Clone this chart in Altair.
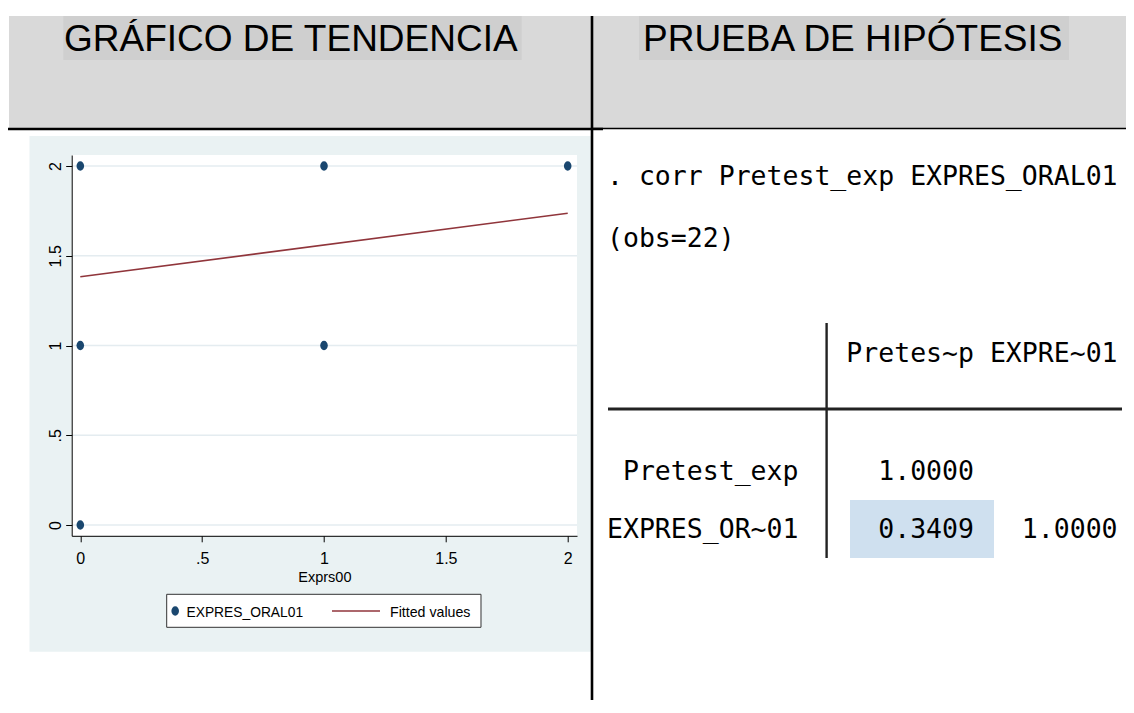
import altair as alt
import pandas as pd

# ---------------- data ----------------
pts_x = [0, 0, 0, 1, 1, 2]
pts_y = [0, 1, 2, 1, 2, 2]
fit_x = [0, 2]
fit_y = [1.383, 1.737]
x_ticks = [0, 0.5, 1, 1.5, 2]
y_ticks = [0, 0.5, 1, 1.5, 2]
legend_labels = ["EXPRES_ORAL01", "Fitted values"]
x_title = "Exprs00"
titles = ["GRÁFICO DE TENDENCIA", "PRUEBA DE HIPÓTESIS"]
cmd_line = ". corr Pretest_exp EXPRES_ORAL01"
obs_line = "(obs=22)"
col_labels = ["Pretes~p", "EXPRE~01"]
row_labels = ["Pretest_exp", "EXPRES_OR~01"]
corr_rows = [[1.0], [0.3409, 1.0]]

# ---------------- layout (window pixel geometry) ----------------
OX, OY = 71.7, 155.0          # plot region origin in the window
PW, PH = 505.3, 380.8         # plot region size
SVG_W, SVG_H = 1118, 692
PAD_L, PAD_T = OX - 8, OY - 8
PAD_R = SVG_W - PAD_L - PW
PAD_B = SVG_H - PAD_T - PH

SANS = "Liberation Sans, Arial, sans-serif"
MONO = "DejaVu Sans Mono, monospace"
NAVY = "#1A476F"
MAROON = "#90353B"
ELLIPSE = "M-0.8,0A0.8,1,0,1,0,0.8,0A0.8,1,0,1,0,-0.8,0Z"

one = alt.Data(values=[{"k": 1}])


def vx(w):
    return alt.value(round(w - OX, 2))


def vy(w):
    return alt.value(round(w - OY, 2))


def rect(x1, y1, x2, y2, color, **kw):
    return alt.Chart(one).mark_rect(color=color, **kw).encode(
        x=vx(x1), x2=vx(x2), y=vy(y1), y2=vy(y2))


def rule(x1, y1, x2, y2, color="black", width=1.0):
    return alt.Chart(one).mark_rule(color=color, strokeWidth=width).encode(
        x=vx(x1), x2=vx(x2), y=vy(y1), y2=vy(y2))


def text(s, x, y, font=SANS, size=16, align="left", color="black", weight="normal"):
    return alt.Chart(one).mark_text(
        text=s, align=align, baseline="alphabetic", font=font, fontWeight=weight,
        fontSize=size, color=color).encode(x=vx(x), y=vy(y))


fmt = "datum.value == 0.5 ? '.5' : format(datum.value, '~g')"
xs = alt.Scale(domain=[-0.0353, 2.0381], nice=False, zero=False)
ys = alt.Scale(domain=[-0.0596, 2.0613], nice=False, zero=False)
xaxis = alt.Axis(values=x_ticks, labelExpr=fmt, title=x_title,
                 titleFont=SANS, titleFontSize=14.5, titleFontWeight="normal",
                 titleColor="black", titlePadding=4,
                 labelFont=SANS, labelFontSize=16, labelColor="black",
                 labelPadding=9, labelFlush=False, labelOverlap=False,
                 tickSize=6, tickColor="black", tickWidth=1,
                 domainColor="black", domainWidth=1, grid=False, zindex=1)
yaxis = alt.Axis(values=y_ticks, labelExpr=fmt, title="",
                 labelAngle=270, labelAlign="center", labelBaseline="bottom",
                 labelFont=SANS, labelFontSize=16, labelColor="black",
                 labelPadding=2, labelFlush=False, labelOverlap=False,
                 tickSize=6, tickColor="black", tickWidth=1,
                 domainColor="black", domainWidth=1, grid=False, zindex=1)
xenc = alt.X("x:Q", scale=xs, axis=xaxis)
yenc = alt.Y("y:Q", scale=ys, axis=yaxis)

layers = []
# header band with titles
layers.append(rect(9, 16, 1140, 128, "#D9D9D9"))
layers.append(rect(63.3, 16, 521.7, 60, "#CFCFCF"))
layers.append(rect(639, 16, 1069, 60, "#CFCFCF"))
layers.append(text(titles[0], 64, 51, size=37))
layers.append(text(titles[1], 643, 51, size=37))
# Stata graph region and plot region
layers.append(rect(29.5, 136, 591.5, 651.7, "#EAF2F3"))
layers.append(rect(OX, OY, OX + PW, OY + PH, "white"))
# table borders of the document
layers.append(rule(8, 129, 603, 129, width=2.6))
layers.append(rule(592, 128.5, 1140, 128.5, width=1.3))
layers.append(rule(592, 16, 592, 713, width=2.6))

# gridlines, points, fitted line
grid = alt.Chart(pd.DataFrame({"y": y_ticks})).mark_rule(
    color="#E4ECF0", strokeWidth=1.5).encode(y=yenc, x=alt.value(0), x2=alt.value(PW))
pts = alt.Chart(pd.DataFrame({"x": pts_x, "y": pts_y})).mark_point(
    shape=ELLIPSE, filled=True, size=90, color=NAVY, opacity=1).encode(x=xenc, y=yenc)
fit = alt.Chart(pd.DataFrame({"x": fit_x, "y": fit_y})).mark_line(
    color=MAROON, strokeWidth=1.6).encode(x=xenc, y=yenc)
layers += [grid, pts, fit]

# legend
layers.append(rect(166.7, 594.3, 481, 627.3, "white", stroke="#333333", strokeWidth=1))
layers.append(alt.Chart(one).mark_point(shape=ELLIPSE, filled=True, size=90,
                                        color=NAVY, opacity=1).encode(x=vx(175.2), y=vy(611)))
layers.append(text(legend_labels[0], 186.5, 616.5, size=13.8))
layers.append(rule(332, 611, 380, 611, color=MAROON, width=1.6))
layers.append(text(legend_labels[1], 390, 616.5, size=14.2))

# Stata results output (right side), fixed-width columns like Stata prints them
NB = "\u00a0"
ZW = "\u200b"   # keeps leading spaces from being trimmed
header = ZW + (" " * 14 + "".join(f"{c:>9}" for c in col_labels)).replace(" ", NB)
rows = [ZW + (f"{lab:>12}" + " " * 2 + "".join(f"{v:9.4f}" for v in vals)).replace(" ", NB)
        for lab, vals in zip(row_labels, corr_rows)]
MS = 26.5
layers.append(rect(850, 500, 994, 558, "#CFE0EF"))
layers.append(text(cmd_line.replace(" ", NB), 607, 185, font=MONO, size=MS))
layers.append(text(obs_line, 607, 247, font=MONO, size=MS))
layers.append(text(header, 607, 362, font=MONO, size=MS))
layers.append(text(rows[0], 607, 480, font=MONO, size=MS))
layers.append(text(rows[1], 607, 538, font=MONO, size=MS))
layers.append(rule(826.6, 323, 826.6, 558, color="#222222", width=2.4))
layers.append(rule(608, 409, 1122, 409, color="#222222", width=3))

chart = alt.layer(*layers).properties(
    width=PW, height=PH,
    autosize=alt.AutoSizeParams(type="none"),
    padding={"left": PAD_L, "top": PAD_T, "right": PAD_R, "bottom": PAD_B},
).configure(background="white").configure_view(stroke="transparent")

chart.save("out.html", embed_options={"renderer": "svg", "actions": False})
